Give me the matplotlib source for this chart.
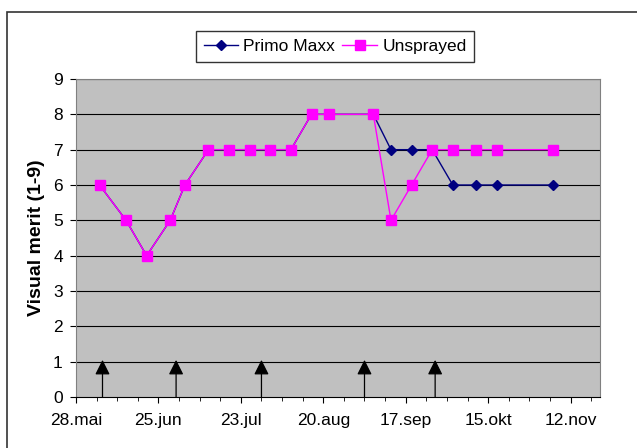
import numpy as np
import pandas as pd
import matplotlib
matplotlib.use("Agg")
import matplotlib.pyplot as plt
from matplotlib.patches import Rectangle

plt.rcParams['font.family'] = ['Liberation Sans', 'DejaVu Sans']

# datoer for bedømmelse
dates = ["2004-06-05", "2004-06-14", "2004-06-21", "2004-06-29", "2004-07-04",
         "2004-07-12", "2004-07-19", "2004-07-26", "2004-08-02", "2004-08-09",
         "2004-08-16", "2004-08-22", "2004-09-06", "2004-09-12", "2004-09-19",
         "2004-09-26", "2004-10-03", "2004-10-11", "2004-10-18", "2004-11-06"]
primo_maxx = [6, 5, 4, 5, 6, 7, 7, 7, 7, 7, 8, 8, 8, 7, 7, 7, 6, 6, 6, 6]
unsprayed = [6, 5, 4, 5, 6, 7, 7, 7, 7, 7, 8, 8, 8, 5, 6, 7, 7, 7, 7, 7]
# sprøytetidspunkt (piler)
spray_dates = ["2004-06-06", "2004-07-01", "2004-07-30", "2004-09-03", "2004-09-27"]
tick_labels = ["28.mai", "25.jun", "23.jul", "20.aug", "17.sep", "15.okt", "12.nov"]

x = pd.to_datetime(dates)
xs = pd.to_datetime(spray_dates)
start = pd.Timestamp("2004-05-28")
end = pd.Timestamp("2004-11-22")

fig = plt.figure(figsize=(6.37, 4.48), dpi=100)
ax = fig.add_axes([76/637, 1-397/448, 524/637, 318/448])
ax.set_facecolor('#C0C0C0')

for v in range(1, 10):
    ax.axhline(v, color='black', lw=0.8, zorder=1)

ax.plot(x, primo_maxx, color='#000080', marker='D', ms=5, lw=1,
        label='Primo Maxx', zorder=3)
ax.plot(x, unsprayed, color='#FF00FF', marker='s', ms=6.5, lw=1,
        label='Unsprayed', zorder=4)

for d in xs:
    ax.annotate('', xy=(d, 1.05), xytext=(d, 0),
                arrowprops=dict(arrowstyle='-|>,head_length=0.9,head_width=0.45',
                                color='black', lw=0.9, mutation_scale=10,
                                shrinkA=0, shrinkB=0), zorder=5)

ax.set_xlim(start, end)
ax.set_ylim(0, 9)
major = pd.date_range(start, periods=7, freq='28D')
minor = pd.date_range(start, end, freq='7D')
ax.set_xticks(major)
ax.set_xticklabels(tick_labels)
ax.set_xticks(minor, minor=True)
ax.set_yticks(range(10))
ax.tick_params(axis='x', which='major', length=4.5, labelsize=12.5, pad=7)
ax.tick_params(axis='x', which='minor', length=3)
ax.tick_params(axis='y', length=4.5, labelsize=12.5, pad=5)
ax.set_ylabel('Visual merit (1-9)', fontsize=14, fontweight='bold', labelpad=6)

for s in ['top', 'right', 'left']:
    ax.spines[s].set_color('#808080')
ax.spines['bottom'].set_color('black')

leg = fig.legend(loc='center', bbox_to_anchor=(335/637, 1-46.5/448), ncol=2,
                 fontsize=12.5, frameon=True, fancybox=False, edgecolor='black',
                 handlelength=2.0, handletextpad=0.3, columnspacing=0.4,
                 borderpad=0.45, borderaxespad=0)
leg.get_frame().set_linewidth(1)

fig.patches.append(Rectangle((7/637, -0.1), 1.1, 1.1 - 12/448,
                             transform=fig.transFigure, fill=False,
                             edgecolor='#333333', lw=1.2))

fig.savefig('out.png', dpi=100)
